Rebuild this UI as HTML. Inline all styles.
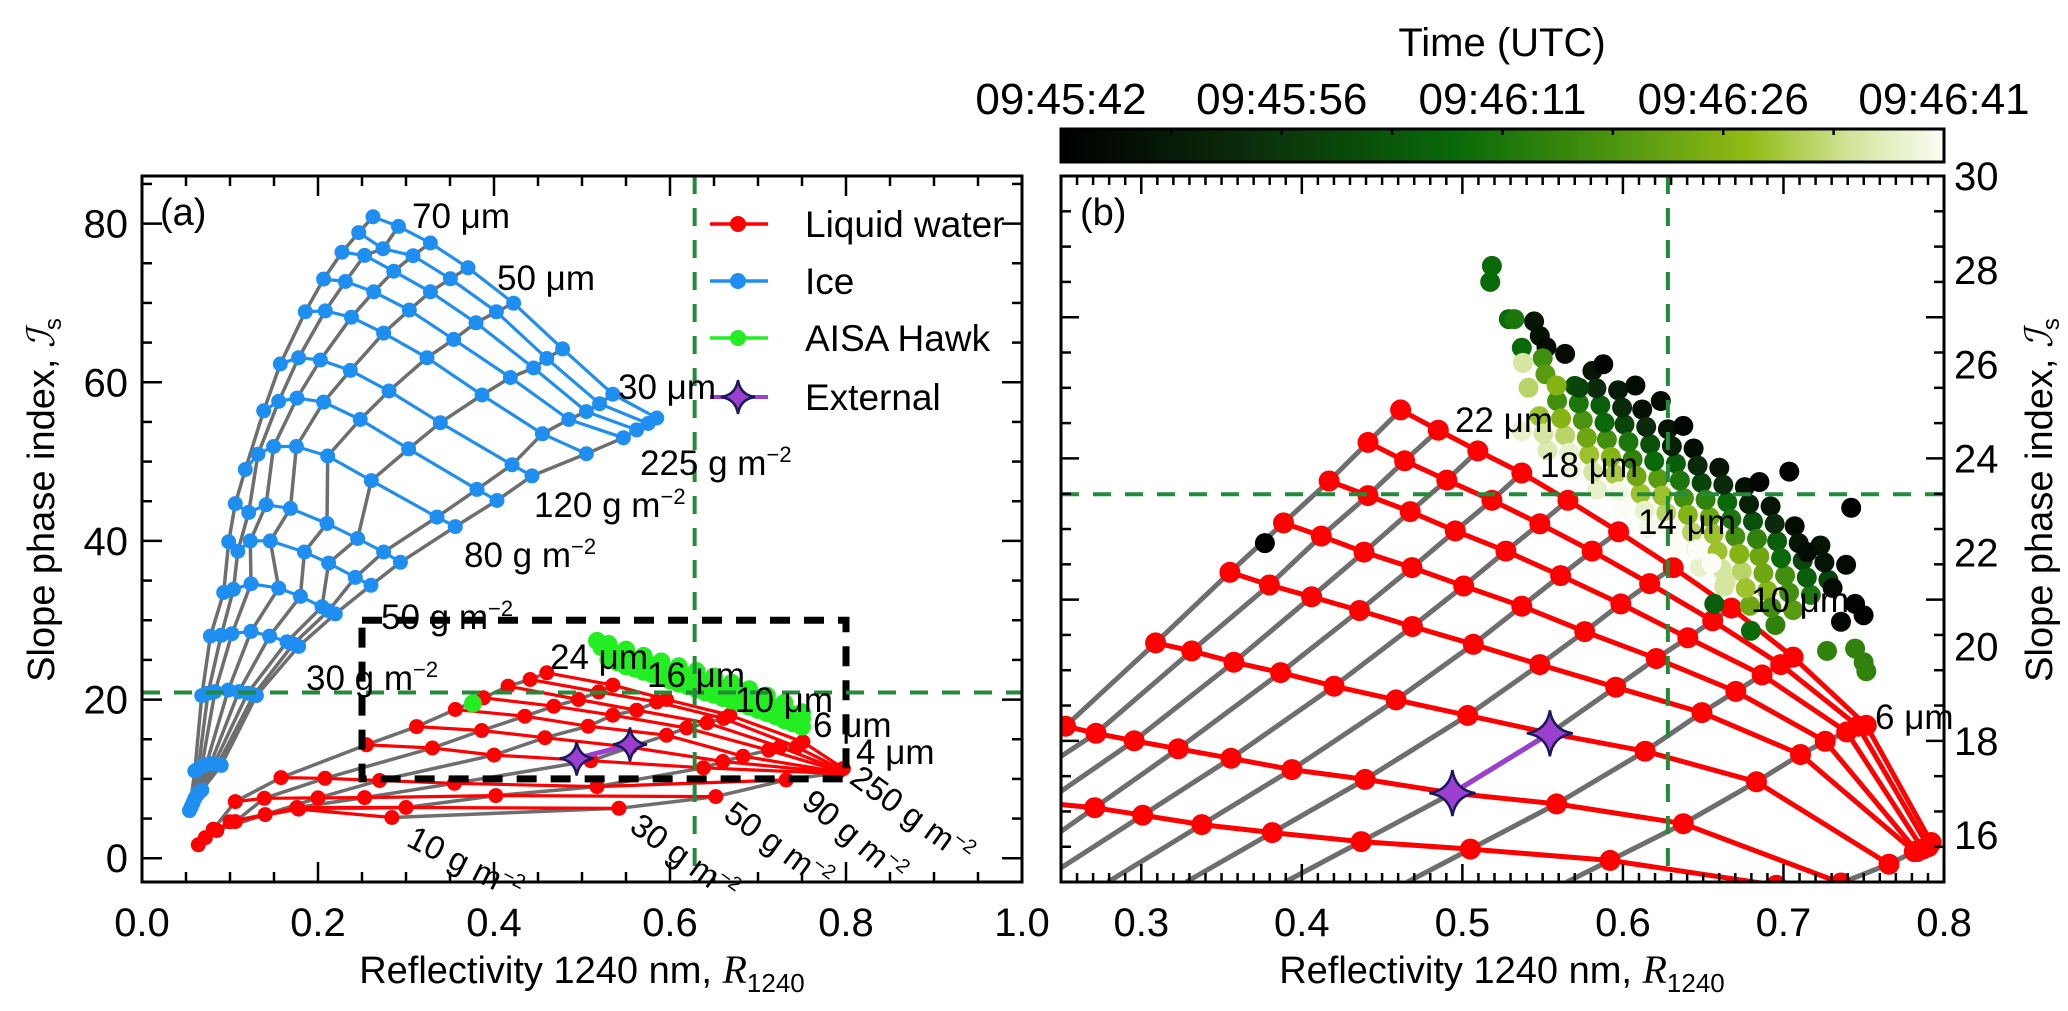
<!DOCTYPE html>
<html><head><meta charset="utf-8"><style>
html,body{margin:0;padding:0;background:#fff;overflow:hidden;width:2068px;height:1011px;}
svg{display:block;font-family:"Liberation Sans",sans-serif;overflow:hidden;}
</style></head><body>
<svg id="fig" width="2068" height="1011" viewBox="0 0 2068 1011" xmlns="http://www.w3.org/2000/svg">
<defs>
<clipPath id="clipA"><rect x="142" y="176" width="880" height="706"/></clipPath>
<clipPath id="clipB"><rect x="1061" y="176" width="883" height="706"/></clipPath>
<linearGradient id="cbgrad" x1="0" x2="1" y1="0" y2="0">
<stop offset="0" stop-color="#000000"/><stop offset="0.2" stop-color="#0b2a0b"/><stop offset="0.45" stop-color="#0a6a0a"/><stop offset="0.62" stop-color="#4a930e"/><stop offset="0.78" stop-color="#93bb16"/><stop offset="0.9" stop-color="#d4e6a0"/><stop offset="1" stop-color="#fbfdf5"/>
</linearGradient>
</defs>
<g id="layerA" clip-path="url(#clipA)"></g>
<g id="layerB" clip-path="url(#clipB)"></g>
<g id="axes"></g>
<g id="labels"></g>
</svg>
<script>
// ---------- Panel (a) data ----------
const liqA = [[0.460,23.37],[0.535,21.82],[0.596,20.01],[0.668,18.03],[0.751,14.67],[0.797,11.31]];
const liqB = [[0.441,22.53],[0.519,20.97],[0.585,19.71],[0.661,17.61],[0.744,14.04],[0.795,11.18]];
const liqC = [[0.416,21.69],[0.496,20.01],[0.562,18.66],[0.642,17.06],[0.725,14.04],[0.793,11.10]];
const liqD = [[0.388,20.22],[0.468,19.17],[0.535,18.03],[0.619,16.42],[0.712,13.62],[0.792,11.01]];
const liqE = [[0.356,18.75],[0.435,17.91],[0.507,16.65],[0.596,15.51],[0.683,12.86],[0.791,10.88]];
const liqF = [[0.312,16.6],[0.386,16.1],[0.458,15.2],[0.555,14.0],[0.660,12.2],[0.790,10.8]];
const liqG = [[0.255,14.3],[0.330,13.9],[0.400,13.0],[0.510,12.3],[0.638,11.4],[0.787,10.7]];
const liqH = [[0.158,10.17],[0.208,10.08],[0.270,9.8],[0.355,9.45],[0.517,9.03],[0.732,9.87]];
const liqI = [[0.106,7.14],[0.139,7.56],[0.200,7.6],[0.253,7.65],[0.402,7.9],[0.652,7.77]];
const liqJ = [[0.081,3.66],[0.106,4.62],[0.140,5.5],[0.176,6.39],[0.300,6.4],[0.542,6.30]];
const liqK = [[0.064,1.7],[0.072,2.6],[0.085,3.5],[0.100,4.6],[0.178,6.2],[0.284,5.13]];
const liquidLines = [liqA,liqB,liqC,liqD,liqE,liqF,liqG,liqH,liqI,liqJ,liqK];

const ice1 = [[0.2625,80.86],[0.2915,79.65],[0.3277,77.56],[0.3705,74.43],[0.4223,69.96],[0.478,64.2],[0.535,58.5],[0.585,55.5]];
const ice2 = [[0.2462,78.87],[0.2739,76.83],[0.3080,75.95],[0.3504,73.04],[0.4027,68.88],[0.460,63.0],[0.520,57.3],[0.575,54.8]];
const ice3 = [[0.2273,76.39],[0.2530,75.99],[0.2860,74.0],[0.3277,71.4],[0.3795,67.5],[0.445,61.8],[0.505,56.3],[0.562,54.0]];
const ice4 = [[0.2064,73.0],[0.2311,72.7],[0.2633,71.4],[0.3038,69.1],[0.3542,65.4],[0.4186,60.6],[0.485,55.3],[0.547,53.0]];
const ice5 = [[0.1856,68.9],[0.2083,69.0],[0.2379,68.2],[0.2746,66.2],[0.3239,63.1],[0.3864,58.4],[0.455,53.5],[0.505,51.0]];
const ice6 = [[0.1572,62.3],[0.1780,63.1],[0.2027,62.8],[0.2367,61.5],[0.2807,58.9],[0.3390,54.9],[0.4205,49.6],[0.4432,48.2]];
const ice7 = [[0.1383,56.4],[0.1553,57.6],[0.1761,58.0],[0.2064,57.5],[0.2480,55.3],[0.3030,51.6],[0.3807,46.5],[0.4034,45.1]];
const ice8 = [[0.1174,49.0],[0.1318,50.95],[0.1496,51.9],[0.1754,51.9],[0.2110,50.7],[0.2606,47.6],[0.3352,43.0],[0.3560,41.8]];
const ice9 = [[0.1060,44.7],[0.1212,43.6],[0.1410,44.55],[0.1686,44.1],[0.2102,42.2],[0.2450,40.3],[0.2746,38.6],[0.2936,37.3]];
const ice10 = [[0.0985,39.9],[0.1089,38.7],[0.1231,40.0],[0.1458,40.0],[0.1845,38.6],[0.2120,37.2],[0.2424,35.4],[0.2602,34.4]];
const ice11 = [[0.0928,33.5],[0.1040,33.9],[0.1239,34.6],[0.1553,34.05],[0.1800,33.0],[0.2045,31.7],[0.2120,31.2],[0.2197,30.8]];
const ice12 = [[0.0777,28.0],[0.0900,28.1],[0.1023,28.3],[0.1239,28.6],[0.1450,28.0],[0.1648,27.3],[0.1720,27.0],[0.1780,26.7]];
const ice13 = [[0.0680,20.5],[0.0750,20.8],[0.0830,21.0],[0.0980,21.2],[0.1100,21.0],[0.1200,20.8],[0.1270,20.6],[0.1300,20.5]];
const ice14 = [[0.0600,11.0],[0.0640,11.3],[0.0680,11.6],[0.0730,11.8],[0.0780,11.9],[0.0820,11.9],[0.0860,11.8],[0.0900,11.7]];
const ice15 = [[0.0540,6.0],[0.0560,6.5],[0.0580,7.0],[0.0600,7.5],[0.0620,7.9],[0.0640,8.2],[0.0660,8.4],[0.0680,8.6]];
const iceLines = [ice1,ice2,ice3,ice4,ice5,ice6,ice7,ice8,ice9,ice10,ice11,ice12,ice13,ice14,ice15];

const hawkAR = [0.517,0.522,0.530,0.530,0.530,0.540,0.540,0.550,0.550,0.550,0.560,0.560,0.570,0.570,0.570,0.580,0.580,0.590,0.590,0.590,0.600,0.600,0.610,0.610,0.610,0.620,0.620,0.630,0.630,0.630,0.640,0.640,0.650,0.650,0.650,0.660,0.660,0.670,0.670,0.670,0.680,0.680,0.690,0.690,0.690,0.700,0.700,0.710,0.710,0.710,0.720,0.720,0.730,0.730,0.730,0.740,0.740,0.750,0.750,0.750,0.376];
const hawkAI = [27.4,26.6,25.0,26.2,27.0,24.7,25.8,24.2,25.3,26.3,23.9,25.0,23.5,24.6,25.5,23.2,24.3,22.8,23.9,24.8,22.4,23.5,22.0,23.2,24.2,21.7,22.9,21.3,22.5,23.6,20.9,22.1,20.6,21.8,22.9,20.2,21.4,19.9,21.0,22.1,19.5,20.6,19.1,20.2,21.3,18.7,19.8,18.3,19.4,20.5,17.9,19.0,17.4,18.5,19.6,17.0,18.1,16.6,17.6,18.4,19.5];

const extAR = [0.494,0.5545];
const extAI = [12.57,14.34];

// ---------- Panel (b) data ----------
const bL1 = [[0.4615,25.03],[0.485,24.60],[0.5096,24.16],[0.537,23.69],[0.5657,23.11],[0.5973,22.44],[0.6313,21.68],[0.6675,20.82],[0.706,19.78],[0.7516,18.33],[0.792,15.84]];
const bL2 = [[0.4412,24.34],[0.464,23.95],[0.4903,23.54],[0.5184,23.11],[0.5482,22.61],[0.5808,22.03],[0.6166,21.34],[0.6559,20.55],[0.6983,19.62],[0.7464,18.31],[0.7902,15.75]];
const bL3 = [[0.417,23.52],[0.4412,23.21],[0.4675,22.87],[0.4956,22.46],[0.5271,22.03],[0.5612,21.51],[0.5987,20.91],[0.6404,20.19],[0.6867,19.40],[0.7394,18.19],[0.7867,15.70]];
const bL4 = [[0.3886,22.63],[0.4121,22.35],[0.4387,22.01],[0.4686,21.68],[0.5008,21.29],[0.537,20.86],[0.5762,20.32],[0.6208,19.75],[0.6703,19.05],[0.726,17.99],[0.7832,15.65]];
const bL5 = [[0.3552,21.58],[0.3798,21.31],[0.4061,21.06],[0.4359,20.77],[0.4689,20.43],[0.5068,20.05],[0.5482,19.62],[0.5955,19.14],[0.6492,18.60],[0.7106,17.71],[0.7815,15.65]];
const bL6 = [[0.3089,20.08],[0.3314,19.91],[0.3577,19.67],[0.3868,19.45],[0.4201,19.16],[0.4587,18.87],[0.5033,18.54],[0.5545,18.16],[0.6138,17.78],[0.6832,17.13],[0.7657,15.38]];
const bL7 = [[0.2528,18.31],[0.2718,18.16],[0.2956,18.0],[0.323,17.83],[0.3559,17.63],[0.3938,17.39],[0.4394,17.18],[0.4938,16.89],[0.5587,16.66],[0.6376,16.24],[0.7358,14.98]];
const bL8 = [[0.180,16.89],[0.2114,16.80],[0.2395,16.68],[0.271,16.58],[0.3009,16.42],[0.3377,16.22],[0.3816,16.05],[0.437,15.86],[0.505,15.70],[0.592,15.46],[0.6955,14.93]];
const gridB = [bL1,bL2,bL3,bL4,bL5,bL6,bL7,bL8];

const extBR = [0.4938,0.5545];
const extBI = [16.89,18.16];

const hawkBR = [0.537,0.548,0.559,0.570,0.581, 0.553,0.564,0.575,0.586,0.597, 0.568,0.579,0.590,0.601,0.612, 0.584,0.595,0.606,0.617,0.628, 0.600,0.611,0.622,0.633,0.644, 0.616,0.627,0.638,0.649,0.660, 0.632,0.643,0.654,0.665,0.676, 0.648,0.659,0.670,0.681,0.692, 0.663,0.674,0.685,0.696,0.707, 0.679,0.690,0.701,0.712,0.723, 0.695,0.706,0.717,0.728,0.739,
 0.5505,0.5615,0.5725,0.5835, 0.5665,0.5775,0.5885,0.5995, 0.5815,0.5925,0.6035,0.6145, 0.5975,0.6085,0.6195,0.6305, 0.6135,0.6245,0.6355,0.6465, 0.6295,0.6405,0.6515,0.6625, 0.6455,0.6565,0.6675,0.6785, 0.6615,0.6725,0.6835,0.6945, 0.6765,0.6875,0.6985,0.7095, 0.6925,0.7035,0.7145,0.7255,
 0.5184,0.5173,0.5289,0.5324,0.5447,0.5482,0.5524,0.537,0.550,0.564,0.5878,0.5377,0.5517,0.5412,0.5587,0.5727,0.6078,0.6236,0.6376,0.7036,0.685,0.7422,0.7148,0.7306,0.7446,0.7499,0.7358,0.7271,0.7446,0.7499,0.7516,0.6797,0.6569,0.6464,0.664,0.6552,0.377];
const hawkBI = [24.58,24.90,25.22,25.54,25.86, 24.17,24.49,24.81,25.13,25.45, 23.76,24.08,24.40,24.72,25.04, 23.34,23.66,23.98,24.30,24.62, 22.93,23.25,23.57,23.89,24.21, 22.52,22.84,23.16,23.48,23.80, 22.11,22.43,22.75,23.07,23.39, 21.70,22.02,22.34,22.66,22.98, 21.28,21.60,21.92,22.24,22.56, 20.87,21.19,21.51,21.83,22.15, 20.46,20.78,21.10,21.42,21.74,
 24.53,24.85,25.17,25.49, 24.12,24.44,24.76,25.08, 23.71,24.03,24.35,24.67, 23.30,23.62,23.94,24.26, 22.89,23.21,23.53,23.85, 22.48,22.80,23.12,23.44, 22.07,22.39,22.71,23.03, 21.65,21.97,22.29,22.61, 21.24,21.56,21.88,22.20, 20.83,21.15,21.47,21.79,
 28.09,27.75,26.96,26.96,26.91,26.60,26.36,26.35,26.13,26.22,26.0,26.03,25.79,25.50,25.55,25.50,25.55,25.22,24.69,23.72,23.5,22.95,22.01,21.25,20.91,20.67,20.53,19.91,19.96,19.67,19.48,20.34,20.91,22.06,21.39,21.77,22.20];
const hawkBT = [0.95,0.8,0.6,0.35,0.1, 0.92,0.85,0.62,0.4,0.12, 0.97,0.8,0.6,0.3,0.08, 0.95,0.82,0.55,0.35,0.1, 1,0.8,0.65,0.4,0.05, 0.98,0.85,0.6,0.3,0.1, 1,0.85,0.7,0.45,0.08, 0.95,0.8,0.6,0.35,0.1, 0.9,0.85,0.7,0.4,0.05, 0.7,0.75,0.6,0.3,0.1, 0.55,0.65,0.5,0.3,0.05,
 0.9,0.75,0.5,0.2, 0.95,0.7,0.45,0.2, 0.9,0.75,0.5,0.2, 0.98,0.7,0.45,0.15, 0.95,0.8,0.5,0.2, 1,0.75,0.55,0.2, 0.95,0.8,0.5,0.15, 0.9,0.75,0.55,0.2, 0.8,0.7,0.45,0.1, 0.6,0.6,0.4,0.1,
 0.45,0.45,0.45,0.5,0.1,0.08,0.05,0.45,0.6,0.05,0.02,0.9,0.65,0.85,0.75,0.3,0.05,0.05,0.03,0.02,0.03,0.0,0.05,0.05,0.02,0.0,0.03,0.55,0.55,0.55,0.55,0.45,0.4,1.0,0.9,1.0,0.0];

const tickLabelsAX = ["0.0","0.2","0.4","0.6","0.8","1.0"];
const tickLabelsAY = ["0","20","40","60","80"];
const tickLabelsBX = ["0.3","0.4","0.5","0.6","0.7","0.8"];
const tickLabelsBY = ["16","18","20","22","24","26","28","30"];
const cbLabels = ["09:45:42","09:45:56","09:46:11","09:46:26","09:46:41"];

// ---------- scales ----------
const xa = r => 142 + r*880;
const ya = v => 176 + (86 - v)*7.933;
const xb = r => 1061 + (r-0.25)*1605.5;
const yb = v => 176 + (30 - v)*47.07;

const NS = "http://www.w3.org/2000/svg";
function mk(tag, attrs, parent){ const e=document.createElementNS(NS,tag); for(const k in attrs) e.setAttribute(k,attrs[k]); parent.appendChild(e); return e; }
const LA = document.getElementById('layerA');
const LB = document.getElementById('layerB');
const AX = document.getElementById('axes');
const LBL = document.getElementById('labels');

function poly(pts, fx, fy, color, w, parent, name){
  const d = pts.map((p,i)=>(i?'L':'M')+fx(p[0]).toFixed(1)+','+fy(p[1]).toFixed(1)).join(' ');
  const e = mk('path',{d:d,fill:'none',stroke:color,'stroke-width':w,'stroke-linejoin':'round'},parent);
  
  
  return e;
}
function dot(x,y,r,color,parent,name){
  const e = mk('circle',{cx:x.toFixed(1),cy:y.toFixed(1),r:r,fill:color},parent);
  
  
  return e;
}
function star(cx,cy,s,parent,name){
  const c=0.13*s;
  const d=`M${cx},${cy-s} Q${cx+c},${cy-c} ${cx+s},${cy} Q${cx+c},${cy+c} ${cx},${cy+s} Q${cx-c},${cy+c} ${cx-s},${cy} Q${cx-c},${cy-c} ${cx},${cy-s} Z`;
  const e = mk('path',{d:d,fill:'#9b3fd0',stroke:'#1a1a5a','stroke-width':2.5},parent);
  
  
  return e;
}
const GRAY='#6e6e6e', RED='#ff0000', BLUE='#1e8ff0', LIME='#22ee22', DGREEN='#238a3a';

const cmStops=[[0,[0,0,0]],[0.2,[11,42,11]],[0.45,[10,106,10]],[0.62,[74,147,14]],[0.78,[147,187,22]],[0.9,[212,230,160]],[1,[251,253,245]]];
function cmap(t){ t=Math.max(0,Math.min(1,t)); for(let i=1;i<cmStops.length;i++){ if(t<=cmStops[i][0]){ const a=cmStops[i-1],b=cmStops[i]; const f=(t-a[0])/(b[0]-a[0]); const c=a[1].map((v,k)=>Math.round(v+(b[1][k]-v)*f)); return `rgb(${c[0]},${c[1]},${c[2]})`; } } return 'rgb(251,253,245)'; }

// ---------- Panel (a) drawing ----------
for(let j=0;j<8;j++){ poly(iceLines.map(l=>l[j]), xa, ya, GRAY, 3.5, LA, 'ice-radius-line'); }
iceLines.forEach(l=>{ poly(l, xa, ya, BLUE, 3.2, LA, 'ice-lwp-line'); l.forEach(p=>dot(xa(p[0]),ya(p[1]),7.5,BLUE,LA,'ice-point')); });
for(let j=0;j<6;j++){ poly(liquidLines.map(l=>l[j]), xa, ya, GRAY, 3.5, LA, 'liquid-radius-line'); }
liquidLines.forEach(l=>{ poly(l, xa, ya, RED, 3.2, LA, 'liquid-lwp-line'); l.forEach(p=>dot(xa(p[0]),ya(p[1]),7.5,RED,LA,'liquid-point')); });
hawkAR.forEach((r,i)=>dot(xa(r),ya(hawkAI[i]),9,LIME,LA,'aisa-hawk-point'));
poly(extAR.map((r,i)=>[r,extAI[i]]), xa, ya, '#9b3fd0', 5, LA, 'external-line');
extAR.forEach((r,i)=>star(xa(r),ya(extAI[i]),17,LA,'external-star'));
{ const e=mk('rect',{x:xa(0.25),y:ya(30),width:xa(0.8)-xa(0.25),height:ya(10)-ya(30),fill:'none',stroke:'#000','stroke-width':7,'stroke-dasharray':'20 14'},LA);
    }
{ const v=mk('line',{x1:xa(0.628),x2:xa(0.628),y1:176,y2:882,stroke:DGREEN,'stroke-width':4,'stroke-dasharray':'18 14'},LA);
   
  const h=mk('line',{x1:142,x2:1022,y1:ya(20.9),y2:ya(20.9),stroke:DGREEN,'stroke-width':4,'stroke-dasharray':'18 14'},LA);
    }

// ---------- Panel (b) drawing ----------
for(let j=0;j<11;j++){
  const pts = gridB.map(l=>l[j]);
  const a=pts[pts.length-2], b=pts[pts.length-1];
  const dR=b[0]-a[0], dI=b[1]-a[1];
  let t=8;
  if(dR<0) t=Math.min(t,(b[0]-0.25)/(-dR));
  if(dI<0) t=Math.min(t,(b[1]-15)/(-dI));
  t=Math.max(t,0);
  const ext=[b[0]+dR*t, b[1]+dI*t];
  poly(pts.concat([ext]), xb, yb, GRAY, 5, LB, 'radius-line');
}
gridB.forEach(l=>{ poly(l, xb, yb, RED, 5, LB, 'lwp-line'); l.forEach(p=>dot(xb(p[0]),yb(p[1]),10.5,RED,LB,'liquid-point')); });
hawkBR.forEach((r,i)=>{ dot(xb(r),yb(hawkBI[i]),10,cmap(hawkBT[i]),LB,'aisa-hawk-point'); });
poly(extBR.map((r,i)=>[r,extBI[i]]), xb, yb, '#9b3fd0', 5, LB, 'external-line');
extBR.forEach((r,i)=>star(xb(r),yb(extBI[i]),23,LB,'external-star'));
{ const v=mk('line',{x1:xb(0.628),x2:xb(0.628),y1:176,y2:882,stroke:DGREEN,'stroke-width':4,'stroke-dasharray':'18 14'},LB);
   
  const h=mk('line',{x1:1061,x2:1944,y1:yb(23.24),y2:yb(23.24),stroke:DGREEN,'stroke-width':4,'stroke-dasharray':'18 14'},LB);
    }

// ---------- axes ----------
function tline(x1,y1,x2,y2,name){ const e=mk('line',{x1:x1,y1:y1,x2:x2,y2:y2,stroke:'#000','stroke-width':2.5},AX);   }
function txt(x,y,s,size,anchor,parent,name){ const e=mk('text',{x:x,y:y,'font-size':size,'text-anchor':anchor||'start',fill:'#000'},parent); e.textContent=s;   return e; }
[[142,176,880,706],[1061,176,883,706]].forEach(f=>{ const e=mk('rect',{x:f[0],y:f[1],width:f[2],height:f[3],fill:'none',stroke:'#000','stroke-width':3},AX);   });
for(let k=0;k<=20;k++){ const v=k*0.05, x=xa(v), L=(k%4===0)?20:10; tline(x,882,x,882-L,'x-tick'); tline(x,176,x,176+L,'x-tick'); }
tickLabelsAX.forEach((s,i)=>txt(xa(i*0.2),936,s,40,'middle',AX,'x-tick-label'));
for(let k=0;k<=17;k++){ const v=k*5; const y=ya(v); const L=(k%4===0)?20:10; tline(142,y,142+L,y,'y-tick'); tline(1022,y,1022-L,y,'y-tick'); }
tickLabelsAY.forEach((s,i)=>txt(128,ya(i*20)+14,s,40,'end',AX,'y-tick-label'));
for(let k=0;k<=55;k++){ const v=0.25+k*0.01, x=xb(v), L=((k+5)%10===0)?18:9; tline(x,882,x,882-L,'x-tick'); tline(x,176,x,176+L,'x-tick'); }
tickLabelsBX.forEach((s,i)=>txt(xb(0.3+i*0.1),936,s,40,'middle',AX,'x-tick-label'));
for(let k=0;k<=20;k++){ const y=yb(15+k*0.75); const L=(k%4===0)?18:10; tline(1061,y,1061+L,y,'y-tick'); tline(1944,y,1944-L,y,'y-tick'); }
tickLabelsBY.forEach((s,i)=>txt(1954,yb(16+i*2)+14,s,40,'start',AX,'y-tick-label'));
function xtitle(cx){ const t=mk('text',{x:cx,y:983,'font-size':38,'text-anchor':'middle'},AX);  
  t.innerHTML='Reflectivity 1240 nm, <tspan font-family="Liberation Serif, serif" font-style="italic" font-size="40">R</tspan><tspan font-size="26" dy="9">1240</tspan>'; }
xtitle(582); xtitle(1502);
function ytitle(cx,cy){ const t=mk('text',{x:0,y:0,'font-size':38,'text-anchor':'middle',transform:`translate(${cx},${cy}) rotate(-90)`},AX);  
  t.innerHTML='Slope phase index, <tspan font-family="DejaVu Serif, serif" font-style="italic">ℐ</tspan><tspan font-size="24" dy="7">s</tspan>'; }
ytitle(54,500); ytitle(2052,500);

// ---------- colorbar ----------
{ const r=mk('rect',{x:1061,y:129,width:883,height:33,fill:'url(#cbgrad)',stroke:'#000','stroke-width':3},AX);  
  for(let k=1;k<8;k++){ const x=1061+k*883/8; tline(x,129,x,135,'colorbar-tick'); }
  cbLabels.forEach((s,i)=>txt(1061+i*883/4,114,s,44,'middle',AX,'colorbar-tick-label'));
  txt(1502,56,'Time (UTC)',40,'middle',AX,'colorbar-title'); }

// ---------- legend ----------
const legItems=[['Liquid water',RED,'dot'],['Ice',BLUE,'dot'],['AISA Hawk',LIME,'dot'],['External','#9b3fd0','star']];
const legY=[224,281,338,397];
legItems.forEach((it,i)=>{ const g=mk('g',{},AX);  
  mk('line',{x1:710,x2:768,y1:legY[i],y2:legY[i],stroke:it[1],'stroke-width':it[2]==='star'?4:3.5},g);
  if(it[2]==='dot') mk('circle',{cx:738,cy:legY[i],r:8,fill:it[1]},g); else star(738,legY[i],17,g,'legend-star');
  txt(805,legY[i]+13,it[0],37,'start',g,'legend-label'); });

// ---------- annotations ----------
function gm(x,y,num,size,rot,name){ const t=mk('text',{x:0,y:0,'font-size':size,transform:`translate(${x},${y}) rotate(${rot||0})`},LBL);  
  t.innerHTML=num+' g m<tspan font-size="'+Math.round(size*0.62)+'" dy="-13">−2</tspan>'; }
function um(x,y,num,size,name){ txt(x,y,num+' μm',size,'start',LBL,name); }
txt(160,225,'(a)',38,'start',LBL,'panel-a-label');
txt(1080,225,'(b)',38,'start',LBL,'panel-b-label');
um(412,228,'70',35,'ice-radius-label'); um(497,290,'50',35,'ice-radius-label'); um(618,399,'30',35,'ice-radius-label');
gm(640,475,'225',35,0,'ice-lwp-label'); gm(534,517,'120',35,0,'ice-lwp-label'); gm(464,567,'80',35,0,'ice-lwp-label');
gm(381,629,'50',35,0,'ice-lwp-label'); gm(306,690,'30',35,0,'ice-lwp-label');
um(550,669,'24',35,'liquid-radius-label'); um(647,687,'16',35,'liquid-radius-label'); um(735,712,'10',35,'liquid-radius-label');
um(813,737,'6',35,'liquid-radius-label'); um(856,764,'4',35,'liquid-radius-label');
gm(405,845,'10',33,27,'liquid-lwp-label'); gm(628,830,'30',33,36,'liquid-lwp-label'); gm(722,818,'50',33,36,'liquid-lwp-label');
gm(800,805,'90',33,40,'liquid-lwp-label'); gm(848,782,'250',33,36,'liquid-lwp-label');
um(1455,432,'22',35,'radius-label'); um(1540,477,'18',35,'radius-label'); um(1638,534,'14',35,'radius-label');
um(1751,612,'10',35,'radius-label'); um(1875,729,'6',35,'radius-label');
</script>
</body></html>
